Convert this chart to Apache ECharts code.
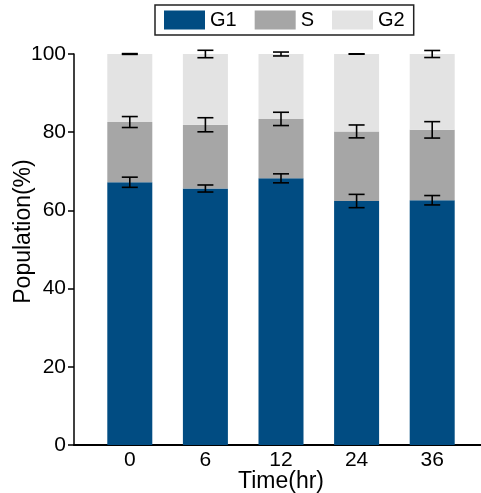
<!DOCTYPE html>
<html>
<head>
<meta charset="utf-8">
<script src="https://cdn.jsdelivr.net/npm/echarts@6/dist/echarts.min.js"></script>
<style>html,body{margin:0;padding:0;background:#fff;}#c{width:481px;height:493px;}</style>
</head>
<body>
<div id="c"></div>
<script>
const categories = ['0', '6', '12', '24', '36'];
const g1 = [67.2, 65.6, 68.2, 62.4, 62.6];
const s = [15.4, 16.3, 15.2, 17.8, 18.0];
const g2 = [17.4, 18.1, 16.6, 19.8, 19.4];
const g1Err = [1.3, 0.9, 1.15, 1.7, 1.2];
const sErr = [1.4, 1.8, 1.7, 1.65, 2.1];
const g2Err = [0.1, 0.95, 0.5, 0.05, 0.9];
const yTicks = [0, 20, 40, 60, 80, 100];

const FONT = 'Liberation Sans';
const colors = { G1: '#014c82', S: '#a6a6a6', G2: '#e3e3e3' };

const errData = [];
categories.forEach((c, i) => {
  errData.push([i, g1[i], g1Err[i]]);
  errData.push([i, g1[i] + s[i], sErr[i]]);
  errData.push([i, g1[i] + s[i] + g2[i], g2Err[i]]);
});

const chart = echarts.init(document.getElementById('c'), null, { renderer: 'canvas' });
chart.setOption({
  animation: false,
  backgroundColor: '#fff',
  textStyle: { fontFamily: FONT },
  legend: {
    left: 155, top: 5,
    padding: [5, 9, 5, 9],
    itemWidth: 41, itemHeight: 19, itemGap: 18,
    icon: 'rect',
    borderColor: '#222', borderWidth: 1.5,
    textStyle: { fontFamily: FONT, fontSize: 20, color: '#000' },
    data: ['G1', 'S', 'G2']
  },
  grid: [
    { left: 92, right: 11, top: 54, bottom: 48, containLabel: false, outerBoundsMode: 'none' },
    { left: 74, right: 0, top: 54, bottom: 48, containLabel: false, outerBoundsMode: 'none' }
  ],
  xAxis: [
    {
      type: 'category', gridIndex: 0, data: categories,
      axisLine: { show: false },
      axisTick: { show: false },
      splitLine: { show: false },
      axisLabel: { fontFamily: FONT, fontSize: 21, color: '#000', margin: 5 },
      name: 'Time(hr)', nameLocation: 'middle', nameGap: 25, nameMoveOverlap: false,
      nameTextStyle: { fontFamily: FONT, fontSize: 23, color: '#000', verticalAlign: 'top' }
    },
    {
      type: 'value', gridIndex: 1, min: 0, max: 1,
      axisLine: { show: true, lineStyle: { color: '#000', width: 2 } },
      axisTick: { show: false }, axisLabel: { show: false }, splitLine: { show: false }
    }
  ],
  yAxis: [
    {
      type: 'value', gridIndex: 0, min: 0, max: 100, interval: 20,
      axisLine: { show: false }, axisTick: { show: false },
      axisLabel: { show: false }, splitLine: { show: false }
    },
    {
      type: 'value', gridIndex: 1, min: 0, max: 100, interval: 20,
      name: 'Population(%)', nameLocation: 'middle', nameGap: 39, nameMoveOverlap: false,
      nameTextStyle: { fontFamily: FONT, fontSize: 23, color: '#000', padding: [0, 0, 0, 36] },
      axisLine: { show: true, lineStyle: { color: '#000', width: 1.5 } },
      axisTick: { show: true, inside: false, length: 6, lineStyle: { color: '#000', width: 1.5 } },
      splitLine: { show: false },
      axisLabel: { fontFamily: FONT, fontSize: 21, color: '#000', margin: 8,
        formatter: v => yTicks.includes(v) ? String(v) : '' }
    }
  ],
  series: [
    { name: 'G1', type: 'bar', stack: 'all', barWidth: 45, data: g1,
      xAxisIndex: 0, yAxisIndex: 0, itemStyle: { color: colors.G1 } },
    { name: 'S', type: 'bar', stack: 'all', barWidth: 45, data: s,
      xAxisIndex: 0, yAxisIndex: 0, itemStyle: { color: colors.S } },
    { name: 'G2', type: 'bar', stack: 'all', barWidth: 45, data: g2,
      xAxisIndex: 0, yAxisIndex: 0, itemStyle: { color: colors.G2 } },
    { type: 'custom', data: errData, z: 10, xAxisIndex: 0, yAxisIndex: 0,
      encode: { x: 0, y: 1 },
      renderItem: function (params, api) {
        const x = api.value(0), c = api.value(1), e = api.value(2);
        const top = api.coord([x, c + e]);
        const bot = api.coord([x, c - e]);
        const hw = 8;
        const st = { stroke: '#000', lineWidth: 1.6 };
        return { type: 'group', children: [
          { type: 'line', shape: { x1: top[0], y1: top[1], x2: bot[0], y2: bot[1] }, style: st },
          { type: 'line', shape: { x1: top[0] - hw, y1: top[1], x2: top[0] + hw, y2: top[1] }, style: st },
          { type: 'line', shape: { x1: bot[0] - hw, y1: bot[1], x2: bot[0] + hw, y2: bot[1] }, style: st }
        ]};
      }
    }
  ]
});
</script>
</body>
</html>
